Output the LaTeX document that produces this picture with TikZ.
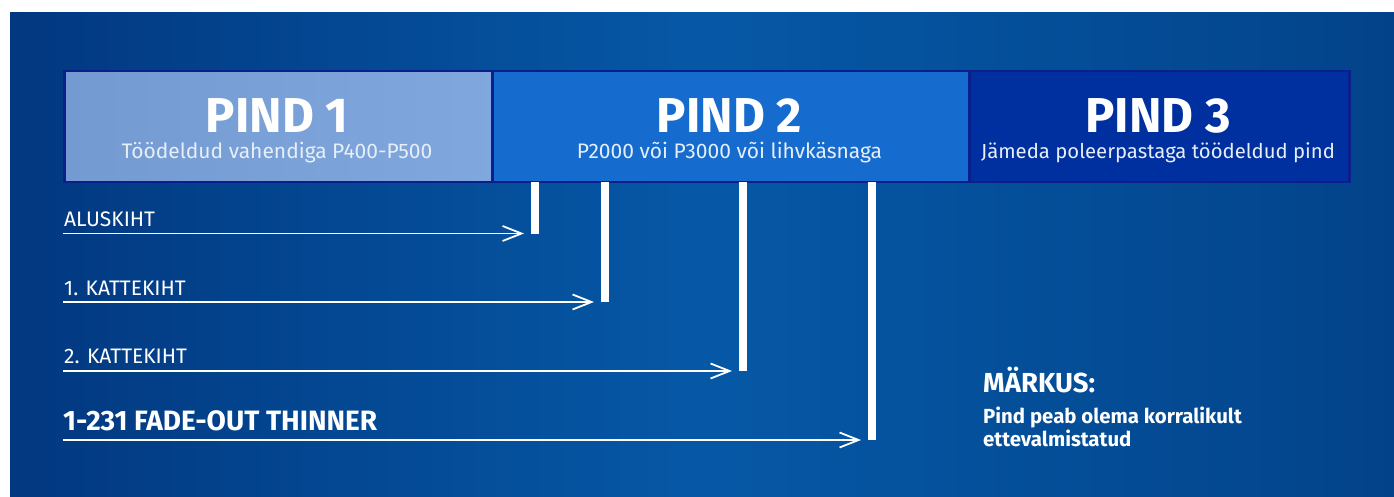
\documentclass[tikz,border=0pt]{standalone}
\usepackage{fontspec}
\setmainfont{Fira Sans}
\usetikzlibrary{arrows.meta}
\definecolor{boxline}{HTML}{0A1E8C}
\definecolor{fillA}{HTML}{7AA3DC}
\definecolor{fillB}{HTML}{166BCF}
\definecolor{fillC}{HTML}{0030A0}
\definecolor{subtxt}{HTML}{E6EEF8}
\pgfdeclarehorizontalshading{bgshade}{100bp}{
  color(0bp)=(rgb,255:red,0;green,28;blue,84);
  color(25bp)=(rgb,255:red,2;green,56;blue,128);
  color(50bp)=(rgb,255:red,6;green,88;blue,166);
  color(72bp)=(rgb,255:red,3;green,70;blue,142);
  color(100bp)=(rgb,255:red,0;green,32;blue,92)}
\tikzset{
  pbox/.style={draw=boxline, line width=2.5pt, minimum height=111pt, inner sep=0pt, anchor=north west},
  ptitle/.style={text=white, font=\bfseries\fontsize{49}{49}\selectfont, anchor=base, inner sep=0pt},
  psub/.style={text=subtxt, font=\fontsize{21}{21}\selectfont, anchor=base, inner sep=0pt},
  bar/.style={fill=white, draw=none, minimum width=8pt, inner sep=0pt, anchor=north west},
  lbl/.style={text=white, font=\fontsize{21}{21}\selectfont, anchor=base west, inner sep=0pt},
  arr/.style={draw=white, line width=1.8pt, -{Straight Barb[length=19pt,width=15pt]}, shorten >=7pt},
  note/.style={text=white, font=\bfseries, anchor=base west, inner sep=0pt, align=left}
}
\begin{document}
\begin{tikzpicture}[x=1pt, y=-1pt]
\useasboundingbox (0,0) rectangle (1394,497);
\fill[white] (0,0) rectangle (1394,497);
\shade[shading=bgshade] (10,13) rectangle (1394,497);
% boxes
\node[pbox, minimum width=428pt, left color=fillA!95!black, right color=fillA!95!white] (b1) at (63,70) {};
\node[pbox, minimum width=477pt, fill=fillB] (b2) at (491,70) {};
\node[pbox, minimum width=380pt, fill=fillC] (b3) at (968,70) {};
\node[ptitle] (t1) at (277,133) {PIND 1};
\node[psub] (s1) at (277,159) {Töödeldud vahendiga P400-P500};
\node[ptitle] (t2) at (729.5,133) {PIND 2};
\node[psub] (s2) at (729.5,159) {P2000 või P3000 või lihvkäsnaga};
\node[ptitle] (t3) at (1158,133) {PIND 3};
\node[psub, font=\fontsize{20.3}{20}\selectfont] (s3) at (1158,159) {Jämeda poleerpastaga töödeldud pind};
% bars
\node[bar, minimum height=52pt] (bar1) at (531,182) {};
\node[bar, minimum height=120pt] (bar2) at (601,182) {};
\node[bar, minimum height=189pt] (bar3) at (739,182) {};
\node[bar, minimum height=258pt] (bar4) at (868,182) {};
% labels
\node[lbl] (l1) at (64,226) {ALUSKIHT};
\node[lbl] (l2) at (64,295) {1. KATTEKIHT};
\node[lbl] (l3) at (64,363) {2. KATTEKIHT};
\node[lbl, font=\bfseries\fontsize{28}{28}\selectfont] (l4) at (63,430) {1-231 FADE-OUT THINNER};
% arrows
\coordinate (a1) at (63,233.5);
\coordinate (a2) at (63,302);
\coordinate (a3) at (63,371);
\coordinate (a4) at (63,440);
\draw[arr] (a1) -- (a1 -| bar1.west);
\draw[arr] (a2) -- (a2 -| bar2.west);
\draw[arr] (a3) -- (a3 -| bar3.west);
\draw[arr] (a4) -- (a4 -| bar4.west);
% note
\node[note, font=\bfseries\fontsize{27.5}{27}\selectfont] (m1) at (983,392) {MÄRKUS:};
\node[note, font=\bfseries\fontsize{20.4}{23}\selectfont] (m2) at (983,423) {Pind peab olema korralikult};
\node[note, font=\bfseries\fontsize{20.4}{23}\selectfont] (m3) at (983,446) {ettevalmistatud};
\end{tikzpicture}
\end{document}
